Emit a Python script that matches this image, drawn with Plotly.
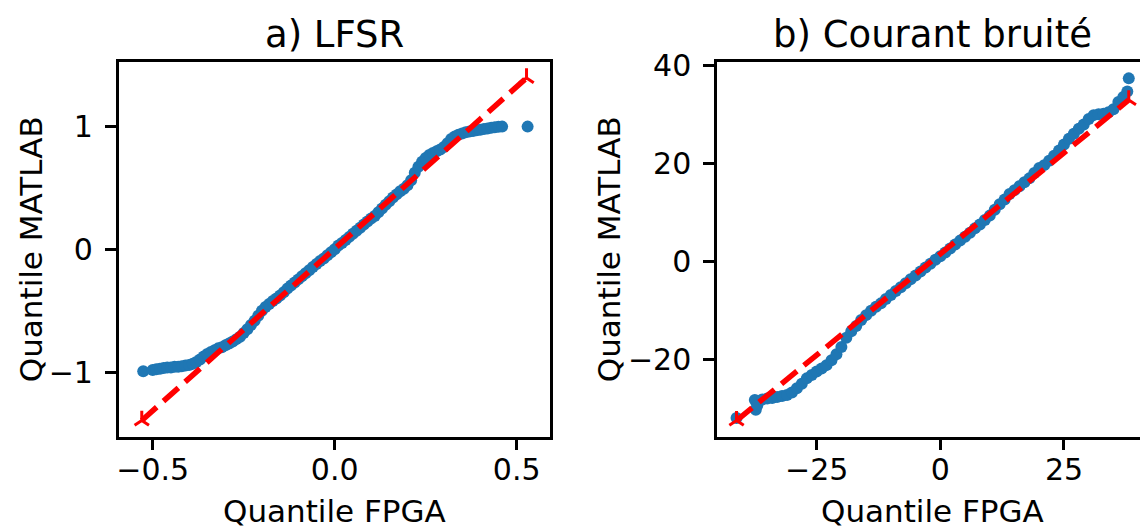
import plotly.graph_objects as go

# ---------------- data: a) LFSR ----------------
lfsr_fpga = [-0.526, -0.50, -0.49, -0.48, -0.47, -0.46, -0.45, -0.44, -0.43, -0.42, -0.41,
             -0.40, -0.39, -0.38, -0.37, -0.36, -0.35, -0.34, -0.33, -0.32, -0.31, -0.30,
             -0.29, -0.28, -0.27, -0.26, -0.25, -0.24, -0.23, -0.22, -0.21, -0.20, -0.19,
             -0.18, -0.17, -0.16, -0.15, -0.14, -0.13, -0.12, -0.11, -0.10, -0.09, -0.08,
             -0.07, -0.06, -0.05, -0.04, -0.03, -0.02, -0.01, 0.00, 0.01, 0.02, 0.03, 0.04,
             0.05, 0.06, 0.07, 0.08, 0.09, 0.10, 0.11, 0.12, 0.13, 0.14, 0.15, 0.16, 0.17,
             0.18, 0.19, 0.20, 0.21, 0.22, 0.23, 0.24, 0.25, 0.26, 0.27, 0.28, 0.29, 0.30,
             0.31, 0.32, 0.33, 0.34, 0.35, 0.36, 0.37, 0.38, 0.39, 0.40, 0.41, 0.42, 0.43,
             0.44, 0.45, 0.46, 0.53]
lfsr_matlab = [-0.99, -0.98, -0.975, -0.97, -0.965, -0.96, -0.96, -0.955, -0.955, -0.95, -0.945,
               -0.94, -0.93, -0.915, -0.895, -0.87, -0.85, -0.835, -0.82, -0.805, -0.795, -0.78,
               -0.765, -0.75, -0.73, -0.71, -0.68, -0.65, -0.615, -0.58, -0.54, -0.50, -0.47,
               -0.445, -0.42, -0.40, -0.375, -0.35, -0.32, -0.295, -0.27, -0.245, -0.22, -0.195,
               -0.17, -0.145, -0.12, -0.095, -0.075, -0.05, -0.025, 0.0, 0.03, 0.05, 0.075, 0.10,
               0.125, 0.15, 0.175, 0.20, 0.225, 0.25, 0.27, 0.30, 0.33, 0.36, 0.39, 0.42, 0.445,
               0.47, 0.49, 0.52, 0.56, 0.62, 0.67, 0.71, 0.74, 0.765, 0.78, 0.795, 0.81, 0.83,
               0.86, 0.895, 0.915, 0.93, 0.94, 0.95, 0.955, 0.96, 0.965, 0.97, 0.975, 0.98, 0.985,
               0.99, 0.993, 0.995, 0.995]
lfsr_line_x = [-0.530, 0.527]
lfsr_line_y = [-1.39, 1.39]

# ---------------- data: b) Courant bruité ----------------
cour_fpga = [-41.2, -37.5, -37.3, -37.0, -36.0, -35.0, -34.0, -33.0, -32.0, -31.0, -30.0, -29.0,
             -28.0, -27.0, -26.0, -25.0, -24.0, -23.0, -22.0, -21.0, -20.0, -19.0, -18.0, -17.0,
             -16.0, -15.0, -14.0, -13.0, -12.0, -11.0, -10.0, -9.0, -8.0, -7.0, -6.0, -5.0, -4.0,
             -3.0, -2.0, -1.0, 0.0, 1.0, 2.0, 3.0, 4.0, 5.0, 6.0, 7.0, 8.0, 9.0, 10.0, 11.0, 12.0,
             13.0, 14.0, 15.0, 16.0, 17.0, 18.0, 19.0, 20.0, 21.0, 22.0, 23.0, 24.0, 25.0, 26.0,
             27.0, 28.0, 29.0, 30.0, 31.0, 32.0, 33.0, 34.0, 35.0, 36.0, 37.0, 37.8, 38.1]
cour_matlab = [-32.0, -28.3, -30.3, -29.4, -28.2, -28.0, -27.9, -27.7, -27.5, -27.3, -26.8, -25.9,
               -25.0, -23.9, -23.2, -22.5, -21.9, -21.2, -20.2, -19.0, -17.5, -15.6, -14.3, -13.2,
               -12.0, -11.0, -10.1, -9.3, -8.6, -7.7, -6.9, -6.1, -5.3, -4.5, -3.7, -2.9, -2.1,
               -1.3, -0.5, 0.3, 1.0, 1.8, 2.6, 3.4, 4.2, 5.0, 5.8, 6.7, 7.5, 8.4, 9.3, 10.5, 11.6,
               12.6, 13.7, 14.5, 15.3, 16.1, 16.9, 18.0, 19.0, 19.6, 20.5, 21.5, 22.6, 23.8, 25.0,
               26.0, 27.0, 27.9, 29.0, 29.8, 30.0, 30.1, 30.4, 31.0, 32.5, 33.5, 34.6, 37.3]
cour_line_x = [-41.2, 38.1]
cour_line_y = [-32.5, 32.9]

# tick labels
lfsr_xticks = [-0.5, 0.0, 0.5]
lfsr_xlabels = ["\u22120.5", "0.0", "0.5"]
lfsr_yticks = [-1, 0, 1]
lfsr_ylabels = ["\u22121", "0", "1"]
cour_xticks = [-25, 0, 25]
cour_xlabels = ["\u221225", "0", "25"]
cour_yticks = [-20, 0, 20, 40]
cour_ylabels = ["\u221220", "0", "20", "40"]

titles = ["a) LFSR", "b) Courant bruité"]
xlabel = "Quantile FPGA"
ylabel = "Quantile MATLAB"

# ---------------- figure ----------------
W, H = 1140, 526
BLUE = "#1f77b4"
RED = "#ff0000"
FONT = "DejaVu Sans"

fig = go.Figure()

def add_panel(xs, ys, lx, ly, xa, ya):
    fig.add_trace(go.Scatter(x=xs, y=ys, mode="markers", xaxis=xa, yaxis=ya,
                             marker=dict(color=BLUE, size=12, line=dict(width=0)),
                             showlegend=False, hoverinfo="skip", cliponaxis=False))
    fig.add_trace(go.Scatter(x=lx, y=ly, mode="lines+markers", xaxis=xa, yaxis=ya,
                             line=dict(color=RED, width=5.5, dash="20px,9px"),
                             marker=dict(symbol="y-up", size=12, color=RED,
                                         line=dict(color=RED, width=3)),
                             showlegend=False, hoverinfo="skip", cliponaxis=False))

add_panel(lfsr_fpga, lfsr_matlab, lfsr_line_x, lfsr_line_y, "x", "y")
add_panel(cour_fpga, cour_matlab, cour_line_x, cour_line_y, "x2", "y2")

def px(v):
    return v / W

def py(v):
    return 1 - v / H

axis_common = dict(showgrid=False, zeroline=False, showline=True, linecolor="black",
                   linewidth=2.5, ticks="outside", ticklen=11, tickwidth=2.5,
                   tickcolor="black", tickfont=dict(family=FONT, size=30, color="black"),
                   fixedrange=True, automargin=False)

top, bottom = 61.7, 436.7
left1, right1 = 118.7, 550.0
left2, right2 = 717.0, 1140.0

fig.update_layout(
    width=W, height=H,
    margin=dict(l=0, r=0, t=0, b=0, pad=0),
    paper_bgcolor="white", plot_bgcolor="white",
    font=dict(family=FONT, color="black"),
    xaxis=dict(axis_common, domain=[px(left1), px(right1)], range=[-0.5934, 0.5915],
               tickvals=lfsr_xticks, ticktext=lfsr_xlabels, mirror=True, anchor="y",
               ticklabelstandoff=-6),
    yaxis=dict(axis_common, domain=[py(bottom), py(top)], range=[-1.522, 1.522],
               tickvals=lfsr_yticks, ticktext=lfsr_ylabels, mirror=True, anchor="x",
               ticklabelstandoff=6),
    xaxis2=dict(axis_common, domain=[px(left2), px(right2)], range=[-45.15, 40.37],
                tickvals=cour_xticks, ticktext=cour_xlabels, mirror=True, anchor="y2",
                ticklabelstandoff=-6),
    yaxis2=dict(axis_common, domain=[py(bottom), py(top)], range=[-35.8, 40.7],
                tickvals=cour_yticks, ticktext=cour_ylabels, mirror=False, anchor="x2",
                ticklabelstandoff=6),
)

ann = []
centers = [(left1 + right1) / 2, (left2 + 1148.6) / 2]
for cx, t in zip(centers, titles):
    ann.append(dict(text=t, x=px(cx), y=py(35), xref="paper", yref="paper",
                    xanchor="center", yanchor="middle", showarrow=False,
                    font=dict(family=FONT, size=37, color="black")))
    ann.append(dict(text=xlabel, x=px(cx), y=py(511), xref="paper", yref="paper",
                    xanchor="center", yanchor="middle", showarrow=False,
                    font=dict(family=FONT, size=31, color="black")))
for lx in [31, 609]:
    ann.append(dict(text=ylabel, x=px(lx), y=py((top + bottom) / 2), xref="paper",
                    yref="paper", xanchor="center", yanchor="middle", textangle=-90,
                    showarrow=False, font=dict(family=FONT, size=31, color="black")))
fig.update_layout(annotations=ann)

fig.write_html("out.html", config={"displayModeBar": False},
               post_script="document.body.style.margin='0px';document.body.style.overflow='hidden';")
